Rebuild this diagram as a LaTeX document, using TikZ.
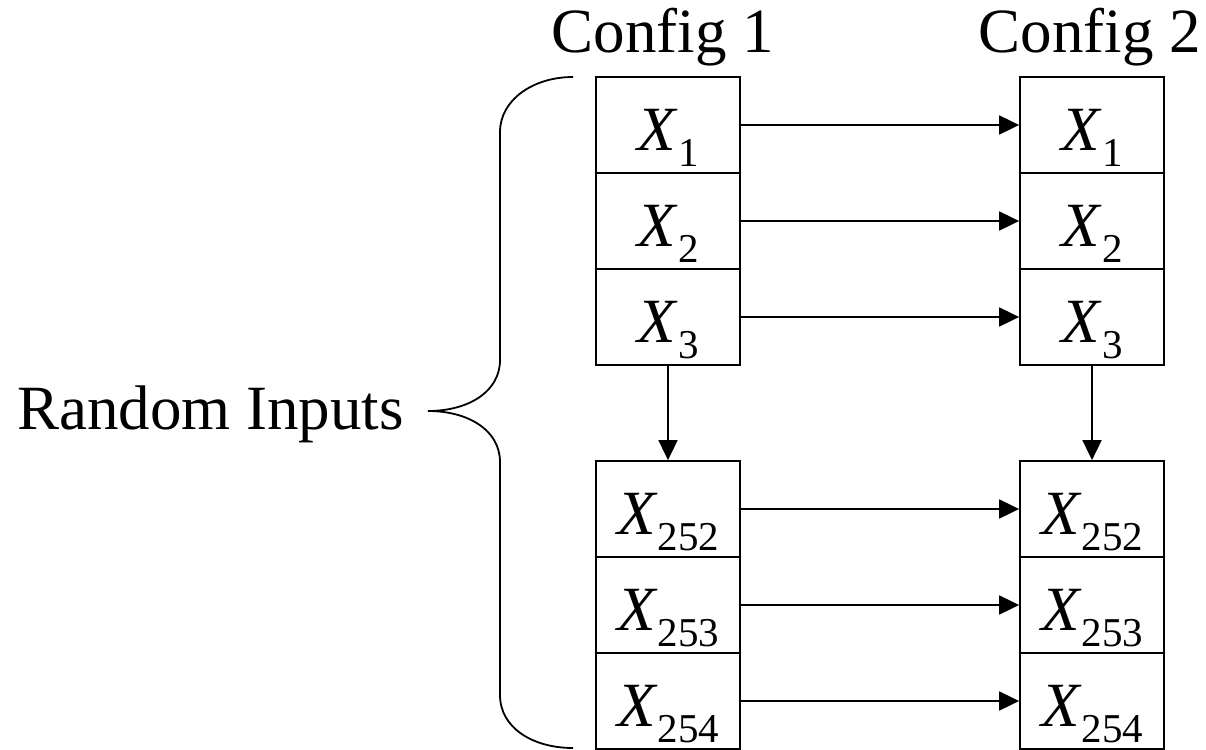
\documentclass[tikz,border=0pt]{standalone}
\usepackage{fontspec}
\setmainfont{Liberation Serif}
\newfontfamily\timesfont{Liberation Serif}
\usetikzlibrary{arrows.meta}
\newcommand{\xv}[1]{\textit{X}\raisebox{-16pt}{\fontsize{41}{41}\selectfont #1}}
\tikzset{
  cell/.style={draw, line width=1.8pt, minimum width=144pt, minimum height=96pt,
    inner sep=0pt, text height=73pt, text depth=23pt, font=\timesfont\fontsize{63}{70}\selectfont},
  lbl/.style={inner sep=0pt, font=\timesfont\fontsize{63}{70}\selectfont},
  arr/.style={line width=1.8pt, -{Triangle[length=20pt,width=19pt]}},
  brace/.style={line width=1.8pt}
}
\begin{document}
\begin{tikzpicture}[x=1pt,y=-1pt]
\useasboundingbox (0,0) rectangle (1206,749);
% left column
\node[cell] (a1) at (668,125) {\xv{1}};
\node[cell] (a2) at (668,221) {\xv{2}};
\node[cell] (a3) at (668,317) {\xv{3}};
\node[cell] (a4) at (668,509) {\xv{252}};
\node[cell] (a5) at (668,605) {\xv{253}};
\node[cell] (a6) at (668,701) {\xv{254}};
% right column
\node[cell] (b1) at (1092,125) {\xv{1}};
\node[cell] (b2) at (1092,221) {\xv{2}};
\node[cell] (b3) at (1092,317) {\xv{3}};
\node[cell] (b4) at (1092,509) {\xv{252}};
\node[cell] (b5) at (1092,605) {\xv{253}};
\node[cell] (b6) at (1092,701) {\xv{254}};
% headers
\node[lbl, anchor=base] (c1) at (663,53) {Config 1};
\node[lbl, anchor=base] (c2) at (1090,53) {Config 2};
\node[lbl, anchor=base east] (ri) at (404,429) {Random Inputs};
% arrows
\foreach \i in {1,...,6}{\draw[arr] (a\i.east) -- (b\i.west);}
\draw[arr] (a3.south) -- (a4.north);
\draw[arr] (b3.south) -- (b4.north);
% brace
\coordinate (bt) at (573,77);
\coordinate (bb) at (573,748);
\coordinate (tip) at (428,411);
\draw[brace] (bt) .. controls (533,77) and (500,100) .. (500,132)
  -- (500,360) .. controls (500,392) and (468,411) .. (tip)
  .. controls (468,411) and (500,430) .. (500,462)
  -- (500,695) .. controls (500,728) and (533,748) .. (bb);
\end{tikzpicture}
\end{document}
